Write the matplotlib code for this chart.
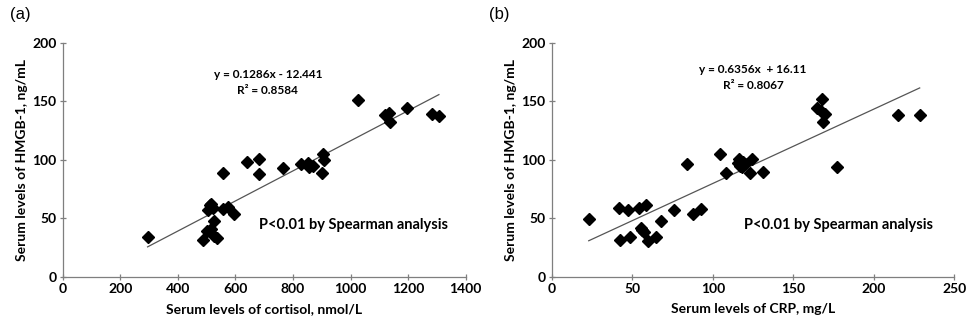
import numpy as np
import matplotlib
import matplotlib.pyplot as plt

matplotlib.use("Agg")
plt.rcParams['font.family'] = ['Lato', 'DejaVu Sans']

# panel (a): cortisol vs HMGB-1
cortisol = [295, 486, 502, 514, 527, 525, 536, 505, 512, 522, 515, 558, 573,
            595, 558, 639, 683, 681, 764, 827, 853, 857, 871, 900, 904, 909,
            1025, 1120, 1134, 1137, 1196, 1284, 1307]
hmgb_a = [34, 31, 39, 41, 48, 35, 33, 57, 61, 59, 62, 58, 60,
          54, 89, 98, 101, 88, 93, 96, 97, 94, 95, 89, 105, 100,
          151, 138, 140, 132, 144, 139, 137]
fit_a = (0.1286, -12.441)

# panel (b): CRP vs HMGB-1
crp = [23, 41.6, 42.6, 47.4, 48.4, 54.2, 55.2, 55.9, 57.3, 58.8, 59.6, 64.8,
       67.7, 76, 83.8, 87.5, 92.5, 104.7, 108, 115.5, 116.5, 117, 118, 119,
       120, 124.4, 123.3, 131.4, 167.6, 165, 167, 169.7, 168.7, 177.4, 214.8,
       228.5]
hmgb_b = [49, 58.7, 31.6, 57, 33.9, 58.7, 41.6, 39.9, 37.9, 61.3, 30.8, 33.9,
          47.9, 57, 96.3, 53.8, 58.1, 105.1, 88.9, 97, 100.3, 95, 93.5, 98,
          96, 100.3, 88.3, 89.2, 151.6, 143.9, 141.9, 139, 131.9, 93.4, 138.2,
          138.2]
fit_b = (0.6356, 16.11)

fig = plt.figure(figsize=(9.73, 3.28), dpi=100)
ax_a = fig.add_axes([0.0644, 0.1564, 0.4142, 0.7134])
ax_b = fig.add_axes([0.567, 0.1564, 0.4138, 0.7134])


def draw(ax, x, y, fit, xmax, xstep, xlabel, eq, r2, eq_pos, p_pos):
    x = np.asarray(x)
    y = np.asarray(y)
    xs = np.array([x.min(), x.max()])
    ax.plot(xs, fit[0]*xs + fit[1], color="#555555", lw=0.9, zorder=1)
    ax.plot(x, y, "D", color="black", markersize=6, zorder=2)

    ax.set_xlim(0, xmax)
    ax.set_ylim(0, 200)
    ax.set_xticks(np.arange(0, xmax + 1, xstep))
    ax.set_yticks(np.arange(0, 201, 50))
    for s in ["top", "right"]:
        ax.spines[s].set_visible(False)
    for s in ["left", "bottom"]:
        ax.spines[s].set_color("#7f7f7f")
        ax.spines[s].set_linewidth(0.9)
    ax.tick_params(direction="inout", length=5, width=0.9, color="#7f7f7f",
                   labelsize=10, pad=2)
    for lbl in ax.get_xticklabels() + ax.get_yticklabels():
        lbl.set_fontweight("bold")
    ax.set_xlabel(xlabel, fontsize=10, fontweight="bold", labelpad=6)
    ax.set_ylabel("Serum levels of HMGB-1, ng/mL", fontsize=10,
                  fontweight="bold", labelpad=3)

    ax.text(eq_pos[0], eq_pos[1], eq, fontsize=8.5, fontweight="bold",
            ha="center", va="center")
    ax.text(eq_pos[0], eq_pos[1] - 14, r2, fontsize=8.5, fontweight="bold",
            ha="center", va="center")
    ax.text(p_pos[0], p_pos[1], "P<0.01 by Spearman analysis", fontsize=10.5,
            fontweight="bold", ha="center", va="center")


draw(ax_a, cortisol, hmgb_a, fit_a, 1400, 200,
     "Serum levels of cortisol, nmol/L",
     "y = 0.1286x - 12.441", "R² = 0.8584", (713, 173), (1009, 44))
draw(ax_b, crp, hmgb_b, fit_b, 250, 50,
     "Serum levels of CRP, mg/L",
     "y = 0.6356x  + 16.11", "R² = 0.8067", (125, 177.5), (178, 44))

fig.text(0.01, 0.955, "(a)", fontsize=12, family="Liberation Sans", va="center")
fig.text(0.503, 0.955, "(b)", fontsize=12, family="Liberation Sans", va="center")

fig.savefig("out.png", dpi=100)
